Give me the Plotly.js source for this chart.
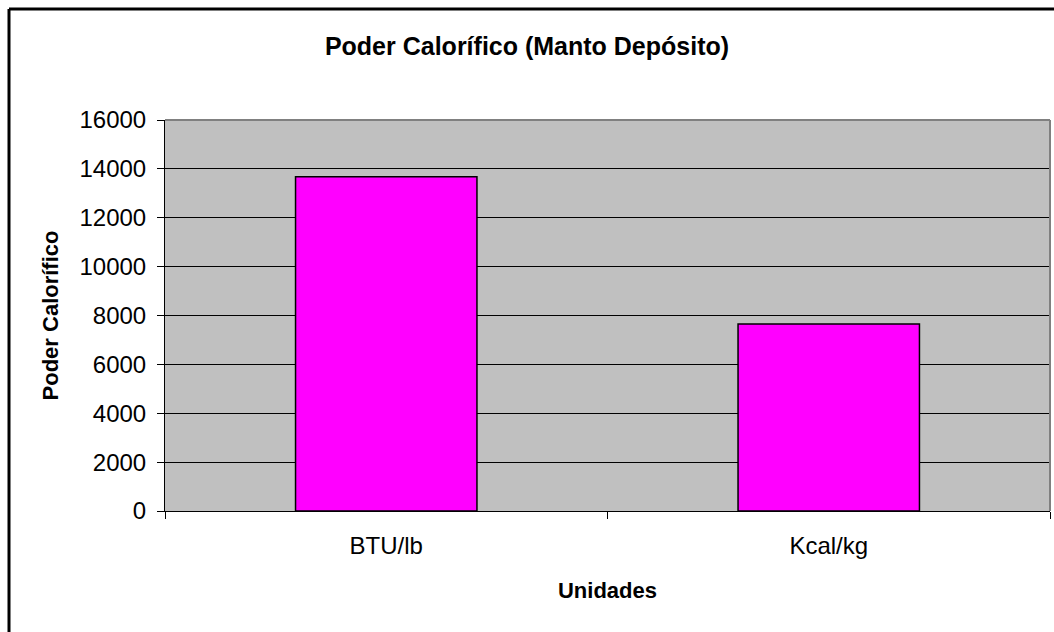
<!DOCTYPE html>
<html>
<head>
<meta charset="utf-8">
<script src="https://cdn.plot.ly/plotly-3.0.1.min.js"></script>
<style>html,body{margin:0;padding:0;background:#fff;}#chart{width:1054px;height:632px;}</style>
</head>
<body>
<div id="chart"></div>
<script>
const categories = ["BTU/lb", "Kcal/kg"];
const values = [13680, 7650];
const yTicks = [0, 2000, 4000, 6000, 8000, 10000, 12000, 14000, 16000];

const trace = {
  type: "bar",
  x: categories,
  y: values,
  marker: {color: "#FF00FF", line: {color: "#000000", width: 1.5}},
  hoverinfo: "x+y"
};

const layout = {
  width: 1054, height: 632,
  margin: {l: 165, r: 4, t: 120, b: 121},
  paper_bgcolor: "#FFFFFF",
  plot_bgcolor: "#C0C0C0",
  bargap: 0.59,
  showlegend: false,
  font: {family: "Liberation Sans, Arial, sans-serif", color: "#000"},
  title: {text: "<b>Poder Calorífico (Manto Depósito)</b>", font: {size: 25}, x: 0.5, xanchor: "center", y: 0.927, yanchor: "middle"},
  xaxis: {
    type: "category",
    tickson: "boundaries",
    ticks: "outside", ticklen: 7, tickcolor: "#000", tickwidth: 1,
    showline: true, linecolor: "#000", linewidth: 1,
    showgrid: false,
    tickfont: {size: 24},
    ticklabelstandoff: 13,
    title: {text: "<b>Unidades</b>", font: {size: 22}, standoff: 24}
  },
  yaxis: {
    range: [0, 16000],
    tickvals: yTicks,
    ticktext: yTicks.map(String),
    ticks: "outside", ticklen: 7, tickcolor: "#000", tickwidth: 1,
    showline: true, linecolor: "#000", linewidth: 1,
    showgrid: true, gridcolor: "#000", gridwidth: 1,
    zeroline: false,
    tickfont: {size: 24},
    ticklabelstandoff: 6,
    title: {text: "<b>Poder Calorífico</b>", font: {size: 22}, standoff: 14}
  },
  shapes: [
    {type: "line", xref: "paper", yref: "paper", x0: 0, x1: 1, y0: 1, y1: 1, line: {color: "#808080", width: 2}},
    {type: "line", xref: "paper", yref: "paper", x0: 1, x1: 1, y0: 0, y1: 1, line: {color: "#808080", width: 2}},
    {type: "line", xref: "paper", yref: "paper", x0: (9-165)/885, x1: 1.1, y0: 1 + (120-9)/391, y1: 1 + (120-9)/391, line: {color: "#000", width: 3}},
    {type: "line", xref: "paper", yref: "paper", x0: (9-165)/885, x1: (9-165)/885, y0: 1 + (120-9)/391, y1: -0.5, line: {color: "#000", width: 3}}
  ]
};

Plotly.newPlot("chart", [trace], layout, {displayModeBar: false, staticPlot: true});
</script>
</body>
</html>
